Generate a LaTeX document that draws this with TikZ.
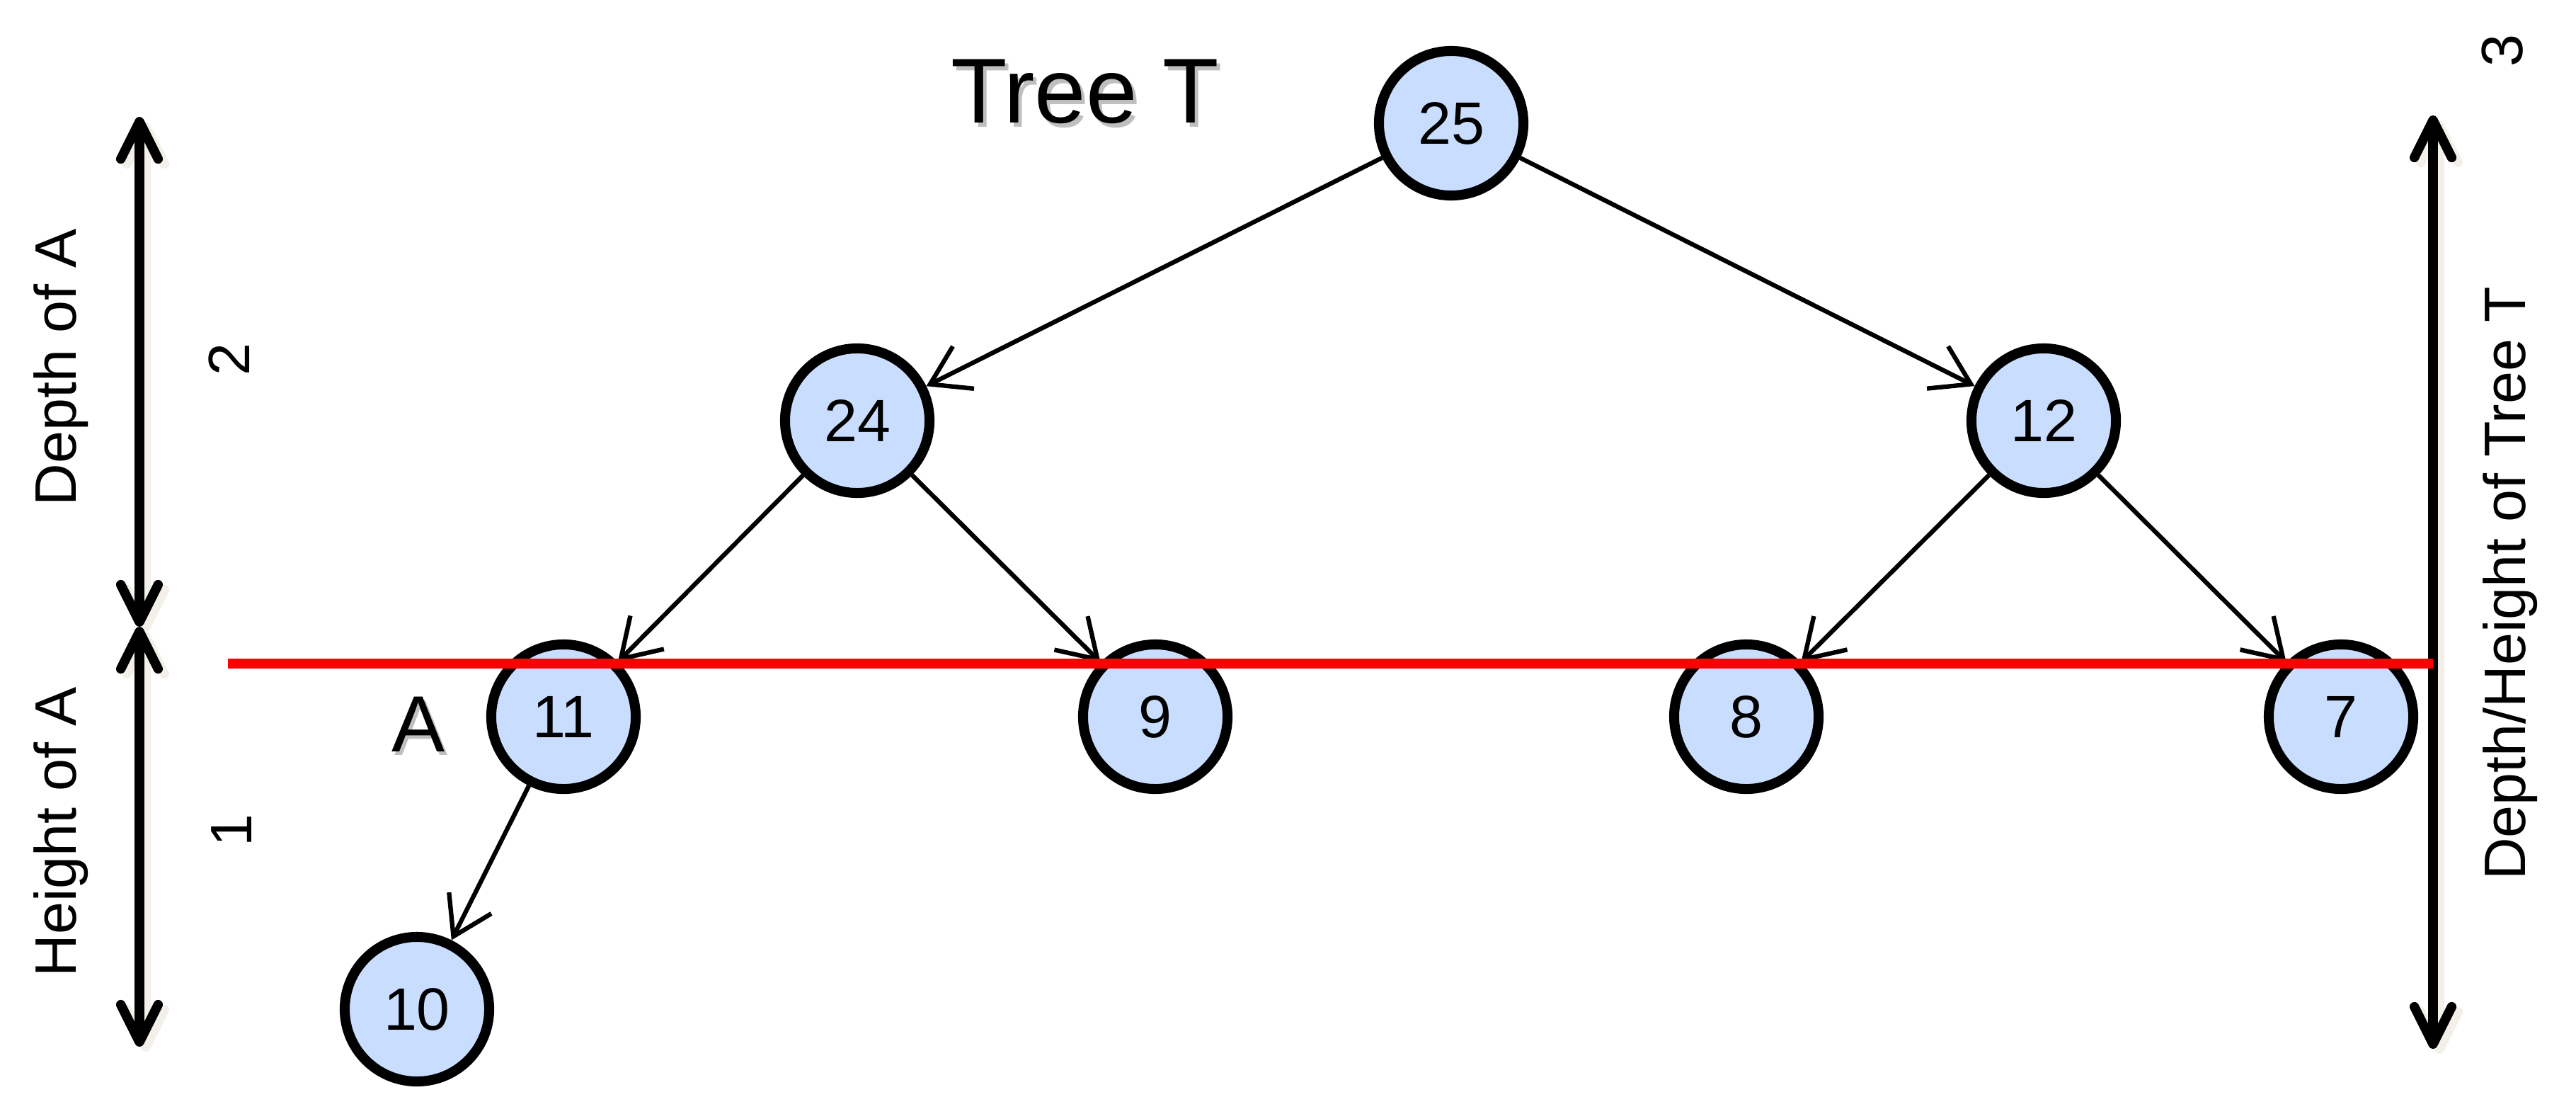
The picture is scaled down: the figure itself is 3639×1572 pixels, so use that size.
\documentclass[tikz,border=0pt]{standalone}
\usepackage{fontspec}
\setmainfont{Liberation Sans}
\usetikzlibrary{arrows.meta}

\definecolor{nodefill}{RGB}{201,222,255}
\definecolor{shadecol}{RGB}{242,240,232}

\begin{document}
\begin{tikzpicture}[x=0.01cm, y=-0.01cm,
  treenode/.style={circle, draw=black, line width=4pt, fill=nodefill,
    minimum size=2.04cm, inner sep=0pt, font=\fontsize{24}{28}\selectfont},
  edge/.style={line width=1.8pt, -{Straight Barb[length=15pt,width=19pt]}},
  measure/.style={line width=3.8pt,
    {Straight Barb[length=15pt,width=15pt,round]}-{Straight Barb[length=15pt,width=15pt,round]}},
  measureshadow/.style={measure, draw=shadecol},
  lbl/.style={font=\fontsize{23.5}{28}\selectfont, rotate=90, anchor=base, inner sep=0pt},
  titlefont/.style={font=\fontsize{37}{44}\selectfont, anchor=base, inner sep=0pt},
  letterfont/.style={font=\fontsize{32}{38}\selectfont, anchor=base, inner sep=0pt},
]
\useasboundingbox (0,0) rectangle (3639,1572);

% ends of the measuring arrows and of the level line
\coordinate (Ltop) at (197,165);
\coordinate (Lmid) at (197,885);
\coordinate (Lbot) at (197,1478);
\coordinate (Rtop) at (3437,163);
\coordinate (Rbot) at (3437,1481);
\coordinate (redL) at (322,937);
\coordinate (redR) at (3437,937);

% soft shadows of the measuring arrows
\draw[measureshadow] ([shift={(9,7)}]Ltop) -- ([shift={(9,7)}]Lmid);
\draw[measureshadow] ([shift={(9,7)}]Lmid) -- ([shift={(9,7)}]Lbot);
\draw[measureshadow] ([shift={(9,7)}]Rtop) -- ([shift={(9,7)}]Rbot);

% measuring arrows
\draw[measure] (Ltop) -- (Lmid);
\draw[measure] (Lmid) -- (Lbot);
\draw[measure] (Rtop) -- (Rbot);

% tree nodes
\node[treenode] (n25) at (2050,174) {25};
\node[treenode] (n24) at (1211,594) {24};
\node[treenode] (n12) at (2887,594) {12};
\node[treenode] (n11) at (796,1012) {11};
\node[treenode] (n9)  at (1632,1012) {9};
\node[treenode] (n8)  at (2467,1012) {8};
\node[treenode] (n7)  at (3307,1012) {7};
\node[treenode] (n10) at (589,1425) {10};

% tree edges
\draw[edge] (n25) -- (n24);
\draw[edge] (n25) -- (n12);
\draw[edge] (n24) -- (n11);
\draw[edge] (n24) -- (n9);
\draw[edge] (n12) -- (n8);
\draw[edge] (n12) -- (n7);
\draw[edge] (n11) -- (n10);

% level of node A
\draw[red, line width=4pt] (redL) -- (redR);

% titles with drop shadow
\node[titlefont, text=black!25] (titlesh) at (1538,179) {Tree T};
\node[titlefont] (title) at (1533,173) {Tree T};
\node[letterfont, text=black!25] (labAsh) at (595,1066) {A};
\node[letterfont] (labA) at (591,1061) {A};

% rotated side labels
\node[lbl] (depthA)  at (107,519)  {Depth of A};
\node[lbl] (heightA) at (107,1175) {Height of A};
\node[lbl] (two)     at (352,508)  {2};
\node[lbl] (one)     at (355,1172) {1};
\node[lbl] (three)   at (3563,72)  {3};
\node[lbl] (depthT)  at (3567,824) {Depth/Height of Tree T};
\end{tikzpicture}
\end{document}
